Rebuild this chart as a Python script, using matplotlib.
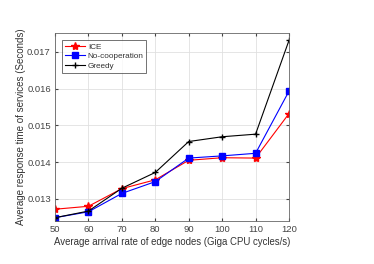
import matplotlib
matplotlib.use("Agg")
import matplotlib.pyplot as plt

plt.rcParams['font.family'] = ['Liberation Sans', 'DejaVu Sans']

x = [50, 60, 70, 80, 90, 100, 110, 120]
ice = [0.01272, 0.01280, 0.01328, 0.01352, 0.01405, 0.01412, 0.01411, 0.01532]
nocoop = [0.01249, 0.01265, 0.01315, 0.01347, 0.01411, 0.01417, 0.01424, 0.01593]
greedy = [0.01249, 0.01267, 0.01329, 0.01372, 0.01456, 0.01469, 0.01476, 0.01731]
yticks = [0.013, 0.014, 0.015, 0.016, 0.017]

fig = plt.figure(figsize=(3.74, 2.64), dpi=100)
ax = fig.add_axes([55/374, 1 - 221/264, (289-55)/374, (221-33)/264])

ax.plot(x, ice, color='red', marker='*', markersize=6, linewidth=0.8, label='ICE')
ax.plot(x, nocoop, color='blue', marker='s', markersize=4, linewidth=0.8, label='No-cooperation')
ax.plot(x, greedy, color='black', marker='+', markersize=5, linewidth=0.8, label='Greedy')

ax.set_xlim(50, 120)
ax.set_ylim(0.0124, 0.01751)
ax.set_xticks(x)
ax.set_yticks(yticks)
ax.set_yticklabels(['0.013', '0.014', '0.015', '0.016', '0.017'])
ax.grid(True, color='#e0e0e0', linewidth=0.6)
ax.tick_params(labelsize=6.8, colors='#444444', length=2, direction='in', top=True, right=True, pad=3)
for s in ax.spines.values():
    s.set_color('#666666')
    s.set_linewidth(0.6)
ax.set_xlabel('Average arrival rate of edge nodes (Giga CPU cycles/s)', fontsize=6.9, color='#333333', labelpad=2)
ax.set_ylabel('Average response time of services (Seconds)', fontsize=7, color='#333333', labelpad=1)
leg = ax.legend(loc='upper left', fontsize=5.9, frameon=True, fancybox=False, borderpad=0.3,
                handlelength=2.5, handletextpad=0.3, labelspacing=0.25, borderaxespad=0.9)
leg.get_frame().set_edgecolor('#333333')
leg.get_frame().set_linewidth(0.6)
for t in leg.get_texts():
    t.set_color('#333333')

fig.savefig('out.png', dpi=100)
